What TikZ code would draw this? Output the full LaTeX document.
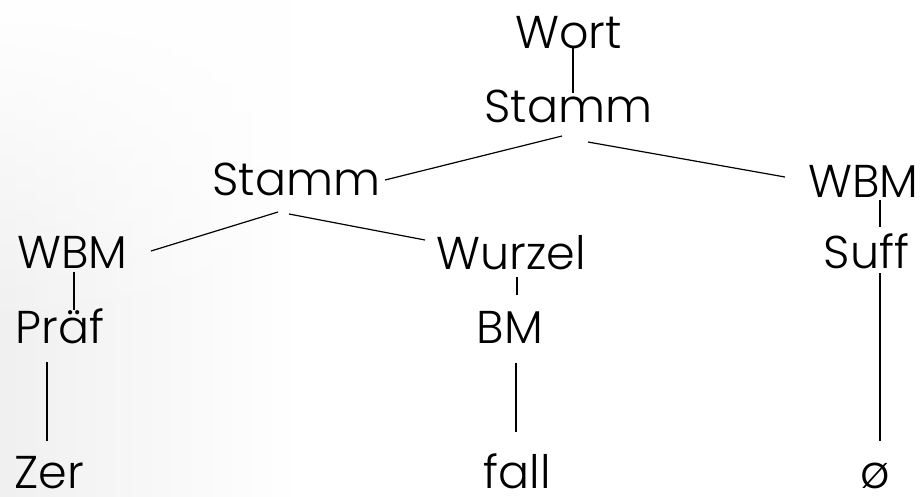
\documentclass[tikz,border=0pt]{standalone}
\usepackage{fontspec}
\setmainfont{Poppins}[UprightFont=* Light]
\usetikzlibrary{calc,fadings}
\begin{document}
\begin{tikzpicture}[x=1pt,y=-1pt,
  lbl/.style={anchor=base,inner sep=0pt,text height=34pt,text depth=0pt,
    font=\fontsize{46}{46}\selectfont,text=black},
  edge/.style={draw=black,line width=1.2pt}]
% page and soft grey sweep on the left
\useasboundingbox (0,0) rectangle (924,496);
\fill[white] (0,0) rectangle (924,496);
\shade[left color=black!6,right color=white] (0,0) rectangle (300,496);
\fill[white,path fading=south] (0,0) rectangle (300,330);

% tree labels
\node[lbl] (wort)   at (568.5,48)  {Wort};
\node[lbl] (stammA) at (568.5,122) {Stamm};
\node[lbl] (stammB) at (296.5,195) {Stamm};
\node[lbl] (wbmR)   at (863.5,197) {WBM};
\node[lbl] (wbmL)   at (72.5,268)  {WBM};
\node[lbl] (wurzel) at (511,269)   {Wurzel};
\node[lbl] (suff)   at (866.5,268) {Suff};
\node[lbl] (praef)  at (60,343)    {Präf};
\node[lbl] (bm)     at (510,343)   {BM};
\node[lbl] (zer)    at (49.5,488)  {Zer};
\node[lbl] (fall)   at (517.5,488) {fall};
\node[lbl] (null)   at (875,488)   {ø};

% branches
\draw[edge] ($(wort.base)+(4.5,0)$)     -- ($(stammA.base)+(4.5,-29)$);
\draw[edge] ($(stammA.base)+(-6.5,14)$) -- ($(stammB.base)+(88.5,-15)$);
\draw[edge] ($(stammA.base)+(19.5,20)$) -- ($(wbmR.base)+(-78.5,-20)$);
\draw[edge] ($(wbmR.base)+(16.5,3)$)    -- ($(suff.base)+(13.5,-41)$);
\draw[edge] ($(suff.base)+(13.5,5)$)    -- ($(null.base)+(5,-47)$);
\draw[edge] ($(stammB.base)+(-18.5,17)$) -- ($(wbmL.base)+(78.5,-17)$);
\draw[edge] ($(stammB.base)+(-7.5,19)$) -- ($(wurzel.base)+(-86,-29)$);
\draw[edge] ($(wbmL.base)+(1.5,4)$)     -- ($(praef.base)+(14,-33)$);
\draw[edge] ($(praef.base)+(-13,19)$)   -- ($(zer.base)+(-2.5,-47)$);
\draw[edge] ($(wurzel.base)+(6,8)$)     -- ($(bm.base)+(7,-48)$);
\draw[edge] ($(bm.base)+(6,20)$)        -- ($(fall.base)+(-1.5,-56)$);
\end{tikzpicture}
\end{document}
